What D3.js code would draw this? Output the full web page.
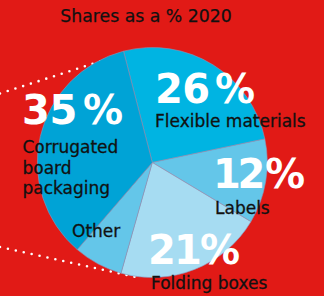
<!DOCTYPE html>
<html>
<head>
<meta charset="utf-8">
<script src="https://cdn.jsdelivr.net/npm/d3@7"></script>
<style>
  html, body { margin: 0; padding: 0; background: #e11a16; }
  svg { display: block; }
</style>
</head>
<body>
<svg id="chart" width="324" height="296"></svg>
<script>
// ---- data ----
const title = "Shares as a % 2020";
const categories = ["Flexible materials", "Labels", "Folding boxes", "Other", "Corrugated board packaging"];
const shares = [26, 12, 21, 7, 35];
const shareLabels = ["26 %", "12 %", "21%", "", "35 %"];
const nameLines = [["Flexible materials"], ["Labels"], ["Folding boxes"], ["Other"], ["Corrugated", "board", "packaging"]];
const sliceColors = ["#00b4e2", "#64c6e9", "#a6dcf2", "#64c6e9", "#00a3d6"];

// ---- layout ----
const W = 324, H = 296;
const cx = 152.3, cy = 162.5, R = 115;
const svg = d3.select("#chart");

svg.append("rect").attr("width", W).attr("height", H).attr("fill", "#e11a16");

// decorative dotted connector lines (behind the pie)
const connectors = [
  [[0, 93.5], [120, 55]],
  [[0, 247], [140, 278]]
];
const line = d3.line();
svg.selectAll("path.conn").data(connectors).join("path")
  .attr("class", "conn")
  .attr("d", d => line(d))
  .attr("fill", "none")
  .attr("stroke", "#ffffff")
  .attr("stroke-width", 2.6)
  .attr("stroke-linecap", "round")
  .attr("stroke-dasharray", "0 8.1");

// pie
const startDeg = -14.5;
const pie = d3.pie().sort(null).value(d => d)
  .startAngle(startDeg * Math.PI / 180)
  .endAngle((360 + startDeg) * Math.PI / 180);
const arc = d3.arc().innerRadius(0).outerRadius(R);
const g = svg.append("g").attr("transform", `translate(${cx},${cy})`);
g.selectAll("path.slice").data(pie(shares)).join("path")
  .attr("class", "slice")
  .attr("d", arc)
  .attr("fill", (d, i) => sliceColors[i])
  .attr("stroke", "#8d93b8")
  .attr("stroke-width", 0.6);

// label placement (text anchor points, relative to page)
const pctPos = [[155, 103], [213, 188], [148, 264], null, [22, 124]];
const pctWidth = [100, 92, 92, null, 101];
const namePos = [[155, 127], [215, 214], [151, 289], [72, 237], [22.5, 153]];
const nameLineH = 20.5;

categories.forEach((c, i) => {
  if (shareLabels[i] && pctPos[i]) {
    svg.append("text")
      .attr("x", pctPos[i][0]).attr("y", pctPos[i][1])
      .attr("font-family", "DejaVu Sans, sans-serif")
      .attr("font-weight", "bold")
      .attr("font-size", 40)
      .attr("word-spacing", -8)
      .attr("textLength", pctWidth[i])
      .attr("lengthAdjust", "spacing")
      .attr("fill", "#ffffff")
      .text(shareLabels[i]);
  }
  const t = svg.append("text")
    .attr("x", namePos[i][0]).attr("y", namePos[i][1])
    .attr("font-family", "DejaVu Sans, sans-serif")
    .attr("font-size", 17)
    .attr("fill", "#111111")
    .attr("stroke", "#111111")
    .attr("stroke-width", 0.3);
  nameLines[i].forEach((ln, j) => {
    t.append("tspan").attr("x", namePos[i][0]).attr("dy", j === 0 ? 0 : nameLineH).text(ln);
  });
});

svg.append("text")
  .attr("x", 146).attr("y", 22)
  .attr("text-anchor", "middle")
  .attr("font-family", "DejaVu Sans, sans-serif")
  .attr("font-size", 17.3)
  .attr("fill", "#111111")
  .attr("stroke", "#111111")
  .attr("stroke-width", 0.25)
  .text(title);
</script>
</body>
</html>
